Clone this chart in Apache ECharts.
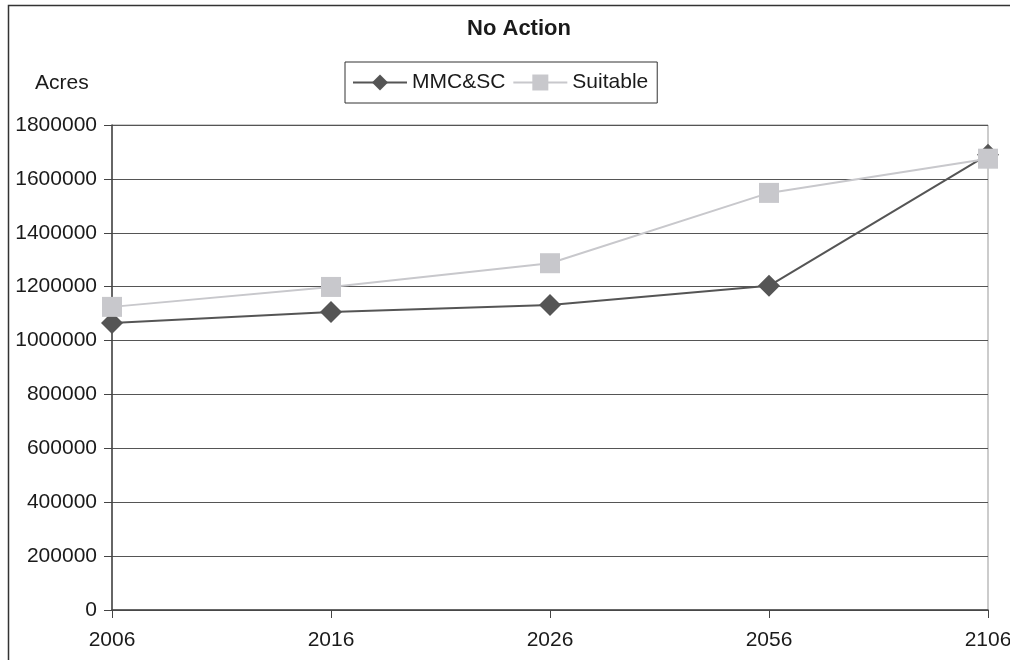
<!DOCTYPE html>
<html>
<head>
<meta charset="utf-8">
<script src="https://cdn.jsdelivr.net/npm/echarts@6/dist/echarts.min.js"></script>
<style>
  html, body { margin: 0; padding: 0; background: #fff; }
  #chart { width: 1010px; height: 660px; }
</style>
</head>
<body>
<div id="chart"></div>
<script>
// Years along the horizontal axis
const years = ['2006', '2016', '2026', '2056', '2106'];
// Acreage per scenario
const mmcsc = [1065000, 1106000, 1132000, 1203000, 1690000];
const suitable = [1125000, 1199000, 1287000, 1548000, 1675000];

const FONT = '"Liberation Sans", Arial, sans-serif';
const TEXT = '#1a1a1a';
const FS = 21;
const chart = echarts.init(document.getElementById('chart'));

chart.setOption({
  backgroundColor: '#ffffff',
  animation: false,
  title: {
    text: 'No Action',
    left: 514,
    textAlign: 'center',
    top: 13,
    textStyle: { fontFamily: FONT, fontSize: 22, fontWeight: 'bold', color: TEXT }
  },
  legend: {
    left: 345,
    top: 62,
    itemWidth: 54,
    itemHeight: 20,
    itemGap: 7,
    padding: [10, 9, 10, 7],
    borderColor: '#333',
    borderWidth: 1,
    textStyle: { fontFamily: FONT, fontSize: FS, color: TEXT },
    data: ['MMC&SC', 'Suitable']
  },
  graphic: [
    {
      type: 'rect',
      shape: { x: 8.5, y: 5.5, width: 1100, height: 700 },
      style: { fill: 'none', stroke: '#333', lineWidth: 1.5 },
      silent: true
    },
    {
      type: 'text',
      left: 35,
      top: 73,
      style: { text: 'Acres', font: FS + 'px ' + FONT, fill: TEXT }
    }
  ],
  grid: {
    left: 112,
    right: 22,
    top: 125,
    bottom: 50,
    show: true,
    borderColor: '#999',
    borderWidth: 1,
    outerBoundsMode: 'none'
  },
  xAxis: {
    type: 'category',
    data: years,
    boundaryGap: false,
    axisLine: { lineStyle: { color: '#444', width: 1.5 } },
    axisTick: { show: true, length: 8, lineStyle: { color: '#444' } },
    axisLabel: { fontFamily: FONT, fontSize: FS, color: TEXT, margin: 20 },
    splitLine: { show: false }
  },
  yAxis: {
    type: 'value',
    min: 0,
    max: 1800000,
    interval: 200000,
    axisLine: { show: true, lineStyle: { color: '#444', width: 1.5 } },
    axisTick: { show: true, length: 8, lineStyle: { color: '#444' } },
    axisLabel: {
      fontFamily: FONT, fontSize: FS, color: TEXT, margin: 15,
      formatter: v => String(v)
    },
    splitLine: { show: true, lineStyle: { color: '#555', width: 1 } }
  },
  series: [
    {
      name: 'MMC&SC',
      type: 'line',
      data: mmcsc,
      symbol: 'diamond',
      symbolSize: 22,
      z: 2,
      lineStyle: { color: '#555555', width: 2 },
      itemStyle: { color: '#555555' }
    },
    {
      name: 'Suitable',
      type: 'line',
      data: suitable,
      symbol: 'rect',
      symbolSize: 20,
      z: 3,
      lineStyle: { color: '#c8c8cc', width: 2 },
      itemStyle: { color: '#c8c8cc' }
    }
  ]
});
</script>
</body>
</html>
